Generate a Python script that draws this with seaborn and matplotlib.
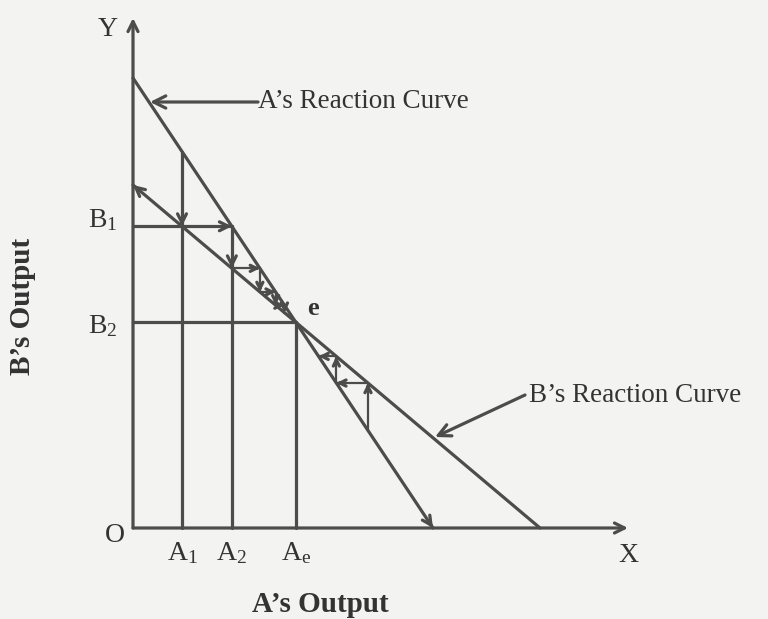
import numpy as np
import pandas as pd
import seaborn as sns
import matplotlib.pyplot as plt
import matplotlib as mpl

sns.set_style("white")
mpl.rc('font', family=['Liberation Serif', 'DejaVu Serif'], size=19.5)
mpl.rc('mathtext', fontset='custom', rm='Liberation Serif', it='Liberation Serif:italic')

# reaction curves as (y-intercept, x-intercept) in diagram units
curve_names = ["A’s Reaction Curve", "B’s Reaction Curve"]
y_intercepts = [450, 343]
x_intercepts = [300, 407]

# starting outputs of the adjustment paths
a_left_start = 49
a_right_start = 235
n_steps_left = 3
n_steps_right = 2

ink = "#4c4c4c"
txt = "#333333"
paper = "#f3f3f1"
lw = 2.3


def curve_y(i, x):
    return y_intercepts[i] * (1 - x / x_intercepts[i])


def curve_x(i, y):
    return x_intercepts[i] * (1 - y / y_intercepts[i])


# equilibrium point e
sA = y_intercepts[0] / x_intercepts[0]
sB = y_intercepts[1] / x_intercepts[1]
ae = (y_intercepts[0] - y_intercepts[1]) / (sA - sB)
be = curve_y(1, ae)

df = pd.DataFrame({
    "x": [0, x_intercepts[0], 0, x_intercepts[1]],
    "y": [y_intercepts[0], 0, y_intercepts[1], 0],
    "curve": [curve_names[0]] * 2 + [curve_names[1]] * 2,
})

fig = plt.figure(figsize=(7.68, 6.19), dpi=100, facecolor=paper)
ax = fig.add_axes([0, 0, 1, 1])
ax.set_facecolor(paper)
sns.lineplot(data=df, x="x", y="y", units="curve", estimator=None,
             color=ink, lw=lw, legend=False, ax=ax)
ax.set_xlim(-133, 635)
ax.set_ylim(-91, 528)
ax.axis("off")


def arrow(x0, y0, x1, y1, scale=18):
    ax.annotate("", xy=(x1, y1), xytext=(x0, y0),
                arrowprops=dict(arrowstyle="->", color=ink, lw=lw,
                                mutation_scale=scale, shrinkA=0, shrinkB=0))


def head(x, y, dx, dy, scale=16):
    n = np.hypot(dx, dy)
    arrow(x - dx / n * 6, y - dy / n * 6, x, y, scale)


# axes with arrows
arrow(0, 0, 0, 510)
arrow(0, 0, 495, 0)
# arrow ends of the curves
head(0, y_intercepts[1], -1, sB)
head(x_intercepts[0], 0, 1, -sA)

# left adjustment path
a1 = a_left_start
ax.plot([a1, a1], [0, curve_y(0, a1)], color=ink, lw=lw)
b1 = curve_y(1, a1)
head(a1, b1, 0, -1)
a2 = curve_x(0, b1)
ax.plot([0, a2], [b1, b1], color=ink, lw=lw)
head(a2, b1, 1, 0)
ax.plot([a2, a2], [0, curve_y(0, a2)], color=ink, lw=lw)
b = curve_y(1, a2)
head(a2, b, 0, -1)
a = a2
for _ in range(n_steps_left):
    an = curve_x(0, b)
    ax.plot([a, an], [b, b], color=ink, lw=1.6)
    head(an, b, 1, 0, 11)
    bn = curve_y(1, an)
    ax.plot([an, an], [b, bn], color=ink, lw=1.6)
    head(an, bn, 0, -1, 11)
    a, b = an, bn

# equilibrium lines
ax.plot([0, ae], [be, be], color=ink, lw=lw)
ax.plot([ae, ae], [0, be], color=ink, lw=lw)

# right adjustment path
a = a_right_start
y0 = curve_y(0, a)
for _ in range(n_steps_right):
    b = curve_y(1, a)
    ax.plot([a, a], [y0, b], color=ink, lw=1.6)
    head(a, b, 0, 1, 11)
    an = curve_x(0, b)
    ax.plot([a, an], [b, b], color=ink, lw=1.6)
    head(an, b, -1, 0, 11)
    a, y0 = an, b

# curve labels
ax.annotate("", xy=(17, 426), xytext=(125, 426),
            arrowprops=dict(arrowstyle="->", color=ink, lw=lw,
                            mutation_scale=22, shrinkA=0, shrinkB=0))
ax.text(125, 426, curve_names[0], ha="left", va="center", color=txt)
ax.annotate("", xy=(302, 91), xytext=(392, 133),
            arrowprops=dict(arrowstyle="->", color=ink, lw=lw,
                            mutation_scale=22, shrinkA=0, shrinkB=0))
ax.text(396, 133, curve_names[1], ha="left", va="center", color=txt)

# axis letters and point labels
ax.text(-25, 498, "Y", ha="center", va="center", color=txt, fontsize=20)
ax.text(495, -28, "X", ha="center", va="center", color=txt, fontsize=20)
ax.text(-18, -8, "O", ha="center", va="center", color=txt, fontsize=20)
ax.text(a1, -25, r"A$_\mathrm{1}$", ha="center", va="center", color=txt, fontsize=20)
ax.text(a2, -25, r"A$_\mathrm{2}$", ha="center", va="center", color=txt, fontsize=20)
ax.text(ae, -25, r"A$_\mathrm{e}$", ha="center", va="center", color=txt, fontsize=20)
ax.text(-30, b1 + 6, r"B$_\mathrm{1}$", ha="center", va="center", color=txt, fontsize=20)
ax.text(-30, be - 4, r"B$_\mathrm{2}$", ha="center", va="center", color=txt, fontsize=20)
ax.text(ae + 17, be + 14, "e", ha="center", va="center", color=txt,
        fontsize=19, fontweight="bold")
ax.text(187, -77, "A’s Output", ha="center", va="center", color=txt,
        fontsize=21, fontweight="bold")
ax.text(-110, 222, "B’s Output", ha="center", va="center", color=txt,
        fontsize=21, fontweight="bold", rotation=90)

fig.savefig("out.png", dpi=100, facecolor=paper)
